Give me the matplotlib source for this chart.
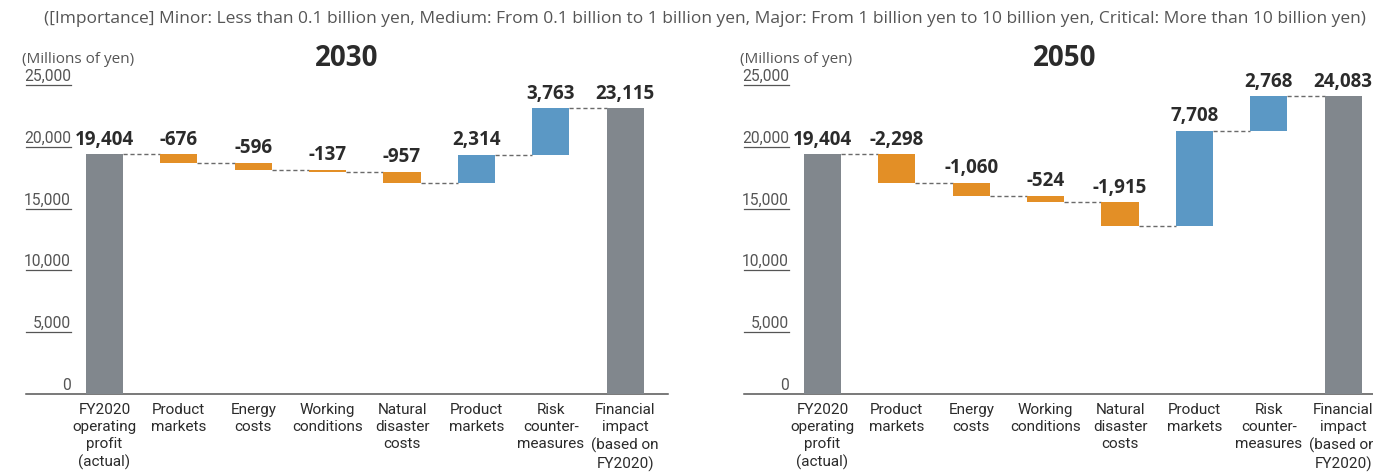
import numpy as np
import matplotlib
matplotlib.use("Agg")
import matplotlib.pyplot as plt
from matplotlib import font_manager

# data
categories = ["FY2020\noperating\nprofit\n(actual)", "Product\nmarkets", "Energy\ncosts",
              "Working\nconditions", "Natural\ndisaster\ncosts", "Product\nmarkets",
              "Risk\ncounter-\nmeasures", "Financial\nimpact\n(based on\nFY2020)"]
kinds = ["base", "neg", "neg", "neg", "neg", "pos", "pos", "total"]

steps_2030 = [19404, -676, -596, -137, -957, 2314, 3763]
total_2030 = 23115
steps_2050 = [19404, -2298, -1060, -524, -1915, 7708, 2768]
total_2050 = 24083

yticks = [0, 5000, 10000, 15000, 20000, 25000]
note = ("([Importance] Minor: Less than 0.1 billion yen, Medium: From 0.1 billion to 1 billion yen, "
        "Major: From 1 billion yen to 10 billion yen, Critical: More than 10 billion yen)")

# fonts
names = {f.name for f in font_manager.fontManager.ttflist}
narrow = "Liberation Sans Narrow" if "Liberation Sans Narrow" in names else "Roboto"
narrow_scale = 1.0 if narrow == "Liberation Sans Narrow" else 0.9
main_font = "Open Sans"

colors = {"base": "#81878d", "total": "#81878d", "neg": "#e38f26", "pos": "#5b98c5"}
txt_dark = "#2b2b2b"
txt_gray = "#555555"

W, H = 1373, 477
fig = plt.figure(figsize=(W / 100, H / 100), dpi=100)

XL, XR = -1.055, 7.575
ax_w = 642
ax_bottom, ax_top = 395, 86


def waterfall(ax, steps, total, title):
    x = np.arange(len(categories))
    bottoms, heights, tops, labels = [], [], [], []
    run = 0
    for i, s in enumerate(steps):
        if i == 0:
            bottoms.append(0); heights.append(s); run = s
            tops.append(s)
        else:
            lo = min(run, run + s)
            bottoms.append(lo); heights.append(abs(s))
            tops.append(max(run, run + s))
            run = run + s
        labels.append(f"{s:,}")
    bottoms.append(0); heights.append(total); tops.append(total)
    labels.append(f"{total:,}")

    bw = 0.5
    ax.bar(x, heights, bottom=bottoms, width=bw,
           color=[colors[k] for k in kinds], zorder=3)

    # dashed connectors
    run = 0
    levels = []
    for i, s in enumerate(steps):
        run = s if i == 0 else run + s
        levels.append(run)
    for i, lv in enumerate(levels):
        ax.plot([x[i] + bw / 2, x[i + 1] - bw / 2], [lv, lv], color="#6a6a6a",
                lw=1.0, ls=(0, (3, 2)), zorder=2)

    for xi, t, lab in zip(x, tops, labels):
        ax.annotate(lab, (xi, t), xytext=(0, 4), textcoords="offset points",
                    ha="center", va="bottom", fontsize=13.5, fontweight="bold",
                    color=txt_dark, family=main_font)

    ax.set_xlim(XL, XR)
    ax.set_ylim(0, 25000)
    for sp in ["top", "right", "left"]:
        ax.spines[sp].set_visible(False)
    ax.spines["bottom"].set_color("#555555")
    ax.spines["bottom"].set_linewidth(1.1)
    ax.set_yticks([])
    ax.set_xticks(x)
    ax.set_xticklabels(categories, fontsize=12.2 * narrow_scale, family=narrow,
                       color=txt_dark, linespacing=1.28)
    ax.tick_params(axis="x", length=0, pad=6)

    # y tick labels sitting on short underline segments
    for v in yticks:
        if v > 0:
            ax.plot([XL, -0.45], [v, v], color="#555555", lw=0.9, clip_on=False)
        ax.annotate(f"{v:,}", (-0.45, v), xytext=(0, 1.5), textcoords="offset points",
                    ha="right", va="bottom", fontsize=12.5 * narrow_scale,
                    family=narrow, color=txt_gray, annotation_clip=False)

    ax.text(0.5, (ax_top - 58) / (ax_bottom - ax_top) + 1, title,
            transform=ax.transAxes, ha="center", va="center",
            fontsize=20, fontweight="bold", color=txt_dark, family=main_font)
    ax.text(-0.006, (ax_top - 60) / (ax_bottom - ax_top) + 1, "(Millions of yen)",
            transform=ax.transAxes, ha="left", va="center",
            fontsize=11, color=txt_gray, family=main_font)


for left_px, steps, total, title in [(26, steps_2030, total_2030, "2030"),
                                     (744, steps_2050, total_2050, "2050")]:
    ax = fig.add_axes([left_px / W, (H - ax_bottom) / H, ax_w / W,
                       (ax_bottom - ax_top) / H])
    waterfall(ax, steps, total, title)

# note line fitted to the measured width
t = fig.text(44 / W, 1 - 19 / H, note, ha="left", va="center", fontsize=11,
             color=txt_gray, family=main_font)
fig.canvas.draw()
wpx = t.get_window_extent().width
t.set_fontsize(11 * 1321 / wpx)

fig.savefig("out.png", dpi=100)
